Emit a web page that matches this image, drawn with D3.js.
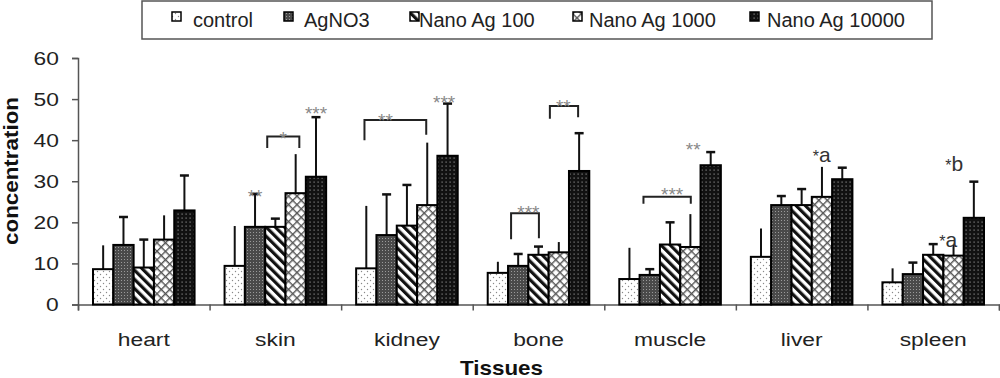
<!DOCTYPE html>
<html><head><meta charset="utf-8">
<script src="https://cdn.jsdelivr.net/npm/d3@7"></script>
<style>
body{margin:0;background:#fff;}
svg{display:block;font-family:"Liberation Sans",Arial,sans-serif;}
</style>
</head><body>
<svg id="chart" width="1000" height="378"></svg>
<script>
// ---------- DATA ----------
const categories = ["heart", "skin", "kidney", "bone", "muscle", "liver", "spleen"];
const seriesNames = ["control", "AgNO3", "Nano Ag 100", "Nano Ag 1000", "Nano Ag 10000"];

const controlMean   = [8.6, 9.4, 8.8, 7.7, 6.2, 11.6, 5.4];
const controlSD     = [5.8, 9.7, 15.2, 2.7, 7.6, 6.9, 3.4];
const agno3Mean     = [14.5, 18.9, 16.9, 9.4, 7.2, 24.2, 7.4];
const agno3SD       = [6.8, 8.0, 9.9, 2.9, 1.4, 2.2, 2.8];
const nano100Mean   = [9.0, 18.9, 19.2, 12.1, 14.6, 24.2, 12.1];
const nano100SD     = [6.8, 2.0, 9.9, 2.0, 5.4, 3.9, 2.6];
const nano1000Mean  = [15.8, 27.1, 24.2, 12.7, 14.0, 26.2, 11.9];
const nano1000SD    = [5.9, 9.5, 15.2, 2.5, 8.0, 7.3, 2.6];
const nano10000Mean = [22.9, 31.1, 36.2, 32.5, 33.9, 30.5, 21.1];
const nano10000SD   = [8.5, 14.5, 12.7, 9.2, 3.2, 2.8, 8.8];

const yTicks = [0, 10, 20, 30, 40, 50, 60];

// significance brackets (positions in bar units within the category group, heights in data units)
const brackets = [
  {cat: "skin",   from: 2.1,  to: 3.68, top: 40.9, leftEnd: 38.1, rightEnd: 38.1},
  {cat: "kidney", from: 0.41, to: 3.45, top: 44.9, leftEnd: 40.0, rightEnd: 41.3},
  {cat: "bone",   from: 1.15, to: 2.52, top: 22.2, leftEnd: 15.9, rightEnd: 16.1},
  {cat: "bone",   from: 3.06, to: 4.45, top: 48.3, leftEnd: 45.2, rightEnd: 45.6},
  {cat: "muscle", from: 1.19, to: 3.52, top: 26.2, leftEnd: 24.5, rightEnd: 24.5}
];
const stars = [
  {cat: "skin",   pos: 1.5,  value: 27.6, text: "**"},
  {cat: "skin",   pos: 4.5,  value: 47.8, text: "***"},
  {cat: "skin",   pos: 2.89, value: 41.7, text: "*"},
  {cat: "kidney", pos: 1.44, value: 45.9, text: "**"},
  {cat: "kidney", pos: 4.33, value: 50.3, text: "***"},
  {cat: "bone",   pos: 2.0,  value: 23.7, text: "***"},
  {cat: "bone",   pos: 3.72, value: 49.3, text: "**"},
  {cat: "muscle", pos: 3.64, value: 38.9, text: "**"},
  {cat: "muscle", pos: 2.6,  value: 28.1, text: "***"}
];
const letters = [
  {cat: "liver",  pos: 3.49, value: 34.7, letter: "a"},
  {cat: "spleen", pos: 3.24, value: 14.0, letter: "a"},
  {cat: "spleen", pos: 3.53, value: 32.5, letter: "b"}
];

// ---------- STYLE / LAYOUT ----------
const means = [controlMean, agno3Mean, nano100Mean, nano1000Mean, nano10000Mean];
const sds = [controlSD, agno3SD, nano100SD, nano1000SD, nano10000SD];
const patternIds = ["p-control", "p-agno3", "p-n100", "p-n1000", "p-n10000"];
const hasCap = [false, true, true, false, true];
const legendSwatchX = [172, 284, 410, 573, 750];
const legendTextX = [193, 304, 419, 589, 767];

const svg = d3.select("#chart");
const plotLeft = 78, plotRight = 999, plotTop = 58, plotBottom = 304.5;
const groupPad = 15;

const x = d3.scaleBand().domain(categories).range([plotLeft, plotRight]).padding(0);
const pos = d3.scaleLinear().domain([0, seriesNames.length]).range([groupPad, x.bandwidth() - groupPad]);
const barW = pos(1) - pos(0);
const y = d3.scaleLinear().domain([0, 60]).range([plotBottom, plotTop]);

// ---------- PATTERNS ----------
const defs = svg.append("defs");
{
  const p = defs.append("pattern").attr("id", "p-control").attr("patternUnits", "userSpaceOnUse")
    .attr("width", 6).attr("height", 6);
  p.append("rect").attr("width", 6).attr("height", 6).attr("fill", "#fff");
  p.append("circle").attr("cx", 1.5).attr("cy", 1.5).attr("r", 0.7).attr("fill", "#888");
  p.append("circle").attr("cx", 4.5).attr("cy", 4.5).attr("r", 0.7).attr("fill", "#888");
}
{
  const p = defs.append("pattern").attr("id", "p-agno3").attr("patternUnits", "userSpaceOnUse")
    .attr("width", 3).attr("height", 3);
  p.append("rect").attr("width", 3).attr("height", 3).attr("fill", "#4a4a4a");
  p.append("rect").attr("x", 1).attr("y", 1).attr("width", 1).attr("height", 1).attr("fill", "#9a9a9a");
}
{
  const p = defs.append("pattern").attr("id", "p-n100").attr("patternUnits", "userSpaceOnUse")
    .attr("width", 6.5).attr("height", 6.5).attr("patternTransform", "rotate(-45)");
  p.append("rect").attr("width", 6.5).attr("height", 6.5).attr("fill", "#fff");
  p.append("rect").attr("width", 3.2).attr("height", 6.5).attr("fill", "#111");
}
{
  const p = defs.append("pattern").attr("id", "p-n1000").attr("patternUnits", "userSpaceOnUse")
    .attr("width", 6).attr("height", 6).attr("patternTransform", "rotate(45)");
  p.append("rect").attr("width", 6).attr("height", 6).attr("fill", "#fff");
  p.append("rect").attr("width", 1.4).attr("height", 6).attr("fill", "#555");
  p.append("rect").attr("width", 6).attr("height", 1.4).attr("fill", "#555");
}
{
  const p = defs.append("pattern").attr("id", "p-n10000").attr("patternUnits", "userSpaceOnUse")
    .attr("width", 4).attr("height", 4);
  p.append("rect").attr("width", 4).attr("height", 4).attr("fill", "#111");
  p.append("rect").attr("x", 1.5).attr("y", 1.5).attr("width", 1.2).attr("height", 1.2).attr("fill", "#8a8a8a");
}

// ---------- AXES ----------
const yAxis = svg.append("g").attr("transform", `translate(${plotLeft},0)`)
  .call(d3.axisLeft(y).tickValues(yTicks).tickSize(6).tickPadding(10));
yAxis.selectAll("path,line").attr("stroke", "#555").attr("stroke-width", 1.5);
yAxis.selectAll("text").attr("font-size", 19).attr("fill", "#222")
  .attr("font-family", "Liberation Sans, Arial, sans-serif").attr("transform", "scale(1.2,1)");

const boundary = d3.scaleLinear().domain([0, categories.length]).range([plotLeft, plotRight]);
const xTicks = svg.append("g").attr("transform", `translate(0,${plotBottom})`)
  .call(d3.axisBottom(boundary).ticks(categories.length).tickSize(6).tickFormat(""));
xTicks.selectAll("path,line").attr("stroke", "#555").attr("stroke-width", 1.5);

const xLabels = svg.append("g").attr("transform", `translate(0,${plotBottom})`)
  .call(d3.axisBottom(x).tickSize(0));
xLabels.select(".domain").remove();
xLabels.selectAll("text").attr("font-size", 19).attr("fill", "#222")
  .attr("font-family", "Liberation Sans, Arial, sans-serif")
  .attr("dy", null).attr("y", 41.5).attr("transform", "scale(1.2,1)");

// ---------- BARS ----------
const barData = [];
categories.forEach((c, ci) => {
  seriesNames.forEach((s, si) => {
    barData.push({cat: c, si, mean: means[si][ci], sd: sds[si][ci]});
  });
});

// error bars (drawn first, bars cover the lower part)
const eb = svg.append("g").attr("stroke", "#111").attr("stroke-width", 2);
barData.forEach(d => {
  const cx = x(d.cat) + pos(d.si + 0.5);
  eb.append("line").attr("x1", cx).attr("x2", cx).attr("y1", y(d.mean)).attr("y2", y(d.mean + d.sd));
  if (hasCap[d.si]) {
    eb.append("line").attr("x1", cx - 4.5).attr("x2", cx + 4.5)
      .attr("y1", y(d.mean + d.sd)).attr("y2", y(d.mean + d.sd)).attr("stroke-width", 2.5);
  }
});

svg.append("g").selectAll("rect").data(barData).join("rect")
  .attr("x", d => x(d.cat) + pos(d.si))
  .attr("y", d => y(d.mean))
  .attr("width", barW)
  .attr("height", d => y(0) - y(d.mean))
  .attr("fill", d => `url(#${patternIds[d.si]})`)
  .attr("stroke", "#000").attr("stroke-width", 2);

// ---------- ANNOTATIONS ----------
const br = svg.append("g").attr("stroke", "#222").attr("stroke-width", 2).attr("fill", "none");
brackets.forEach(b => {
  const x1 = x(b.cat) + pos(b.from), x2 = x(b.cat) + pos(b.to);
  br.append("path").attr("d",
    `M${x1},${y(b.leftEnd)}V${y(b.top)}H${x2}V${y(b.rightEnd)}`);
});
svg.append("g").selectAll("text").data(stars).join("text")
  .attr("x", d => x(d.cat) + pos(d.pos))
  .attr("y", d => y(d.value) + 11.5)
  .attr("text-anchor", "middle").attr("font-size", 19).attr("fill", "#888")
  .text(d => d.text);
const lt = svg.append("g").selectAll("text").data(letters).join("text")
  .attr("x", d => x(d.cat) + pos(d.pos))
  .attr("y", d => y(d.value))
  .attr("text-anchor", "middle").attr("fill", "#333");
lt.append("tspan").attr("font-size", 16).text("*");
lt.append("tspan").attr("font-size", 21).text(d => d.letter);

// ---------- TITLES ----------
svg.append("text").attr("transform", "translate(501.5,375) scale(1.12,1)")
  .attr("text-anchor", "middle").attr("font-size", 20).attr("font-weight", "bold").attr("fill", "#111")
  .text("Tissues");
svg.append("text").attr("transform", "translate(17.5,171) rotate(-90) scale(1.12,1)")
  .attr("text-anchor", "middle").attr("font-size", 20).attr("font-weight", "bold").attr("fill", "#111")
  .text("concentration");

// ---------- LEGEND ----------
const lg = svg.append("g");
lg.append("rect").attr("x", 142).attr("y", 1).attr("width", 790).attr("height", 38)
  .attr("fill", "#fff").attr("stroke", "#555").attr("stroke-width", 1.5);
seriesNames.forEach((s, i) => {
  lg.append("rect").attr("x", legendSwatchX[i]).attr("y", 12).attr("width", 9).attr("height", 9)
    .attr("fill", `url(#${patternIds[i]})`).attr("stroke", "#000").attr("stroke-width", 1.5);
  lg.append("text").attr("x", legendTextX[i]).attr("y", 26.5).attr("font-size", 20).attr("fill", "#222")
    .text(s);
});
</script>
</body></html>
